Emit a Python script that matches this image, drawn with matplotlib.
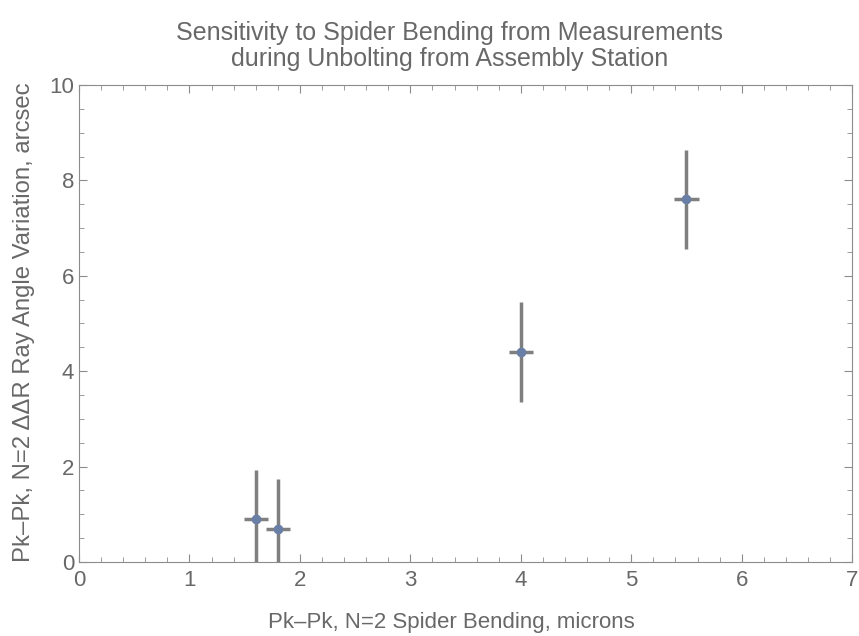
import matplotlib
matplotlib.use("Agg")
import matplotlib.pyplot as plt
from matplotlib.ticker import MultipleLocator

x = [1.6, 1.8, 4.0, 5.5]
y = [0.9, 0.7, 4.4, 7.6]
xerr = [0.11, 0.11, 0.11, 0.11]
yerr = [1.03, 1.03, 1.04, 1.04]

plt.rcParams['font.family'] = ['Liberation Sans', 'DejaVu Sans']
fig = plt.figure(figsize=(8.59, 6.36), dpi=100)
ax = fig.add_axes([0.092, 0.1164, 0.9, 0.75])

ax.errorbar(x, y, xerr=xerr, yerr=yerr, fmt='o', color='#6a7fa6', ms=6,
            ecolor='#7f7f7f', elinewidth=2.5, capsize=0, zorder=3)

ax.set_xlim(0, 7)
ax.set_ylim(0, 10)
ax.xaxis.set_major_locator(MultipleLocator(1))
ax.xaxis.set_minor_locator(MultipleLocator(0.2))
ax.yaxis.set_major_locator(MultipleLocator(2))
ax.yaxis.set_minor_locator(MultipleLocator(0.5))
axc = '#8c8c8c'
tc = '#686868'
for s in ax.spines.values():
    s.set_color(axc)
ax.tick_params(which='both', direction='in', top=True, right=True, color=axc,
               labelcolor=tc, labelsize=16)
ax.tick_params(which='major', length=6)
ax.tick_params(which='minor', length=3.5)
ax.tick_params(axis='x', pad=6)

ax.set_xlabel('Pk\u2013Pk, N=2 Spider Bending, microns', color=tc, fontsize=16,
              labelpad=15, x=0.481)
ax.set_ylabel('Pk\u2013Pk, N=2 \u0394\u0394R Ray Angle Variation, arcsec', color=tc,
              fontsize=17.2, labelpad=10, y=0.503)
ax.set_title('Sensitivity to Spider Bending from Measurements\nduring Unbolting from Assembly Station',
             color=tc, fontsize=18, pad=14, linespacing=1.1, x=0.479)

fig.savefig('out.png', dpi=100)
